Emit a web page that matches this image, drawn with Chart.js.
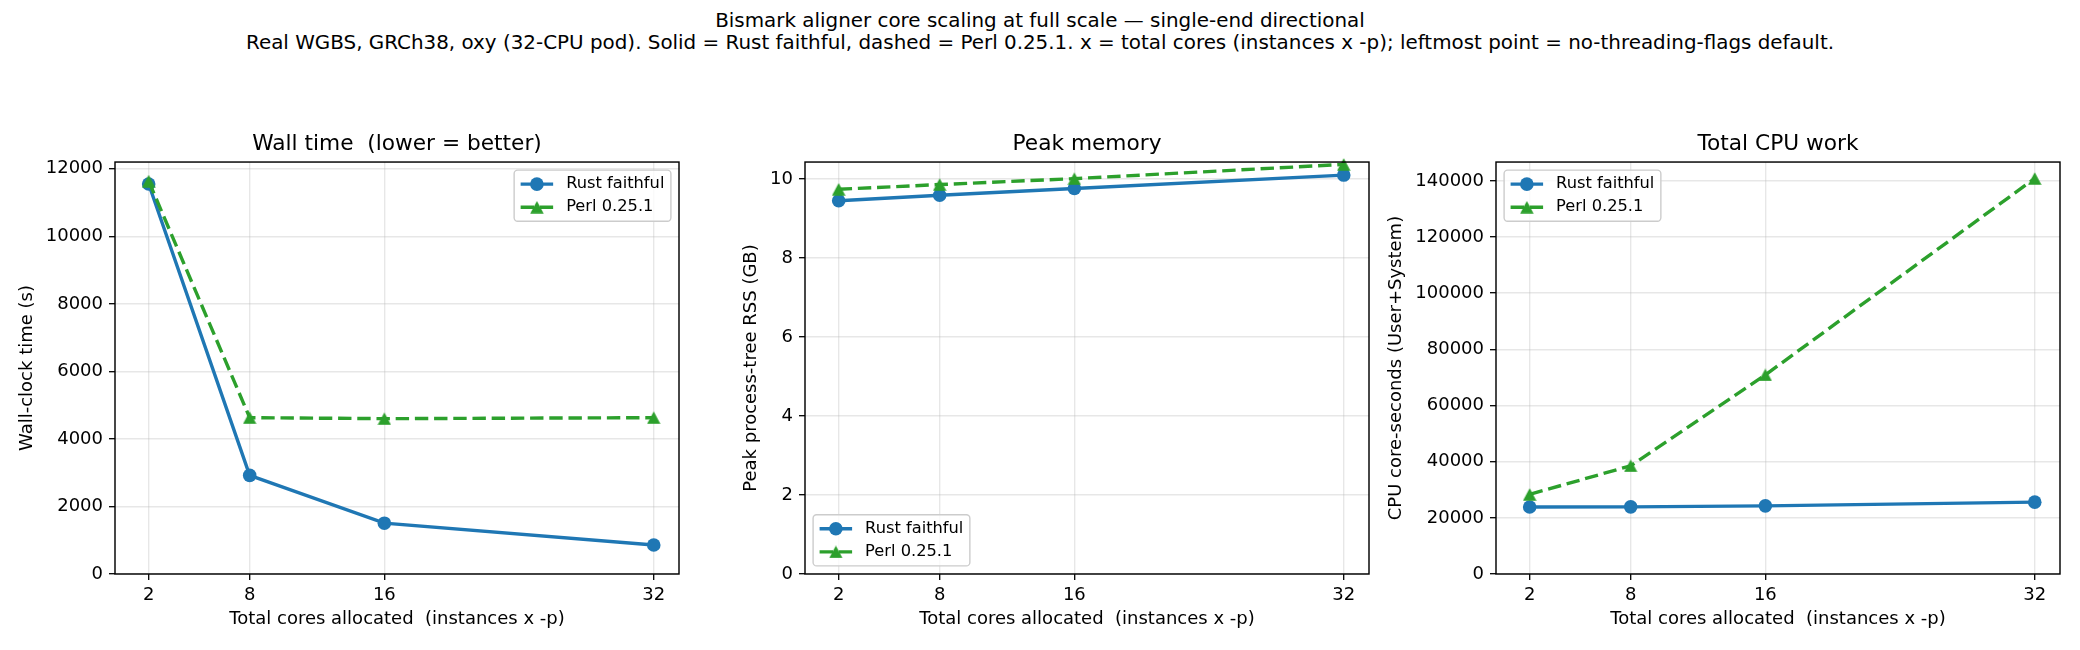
<!DOCTYPE html>
<html>
<head>
<meta charset="utf-8">
<script src="https://cdn.jsdelivr.net/npm/chart.js@4/dist/chart.umd.min.js"></script>
<style>
  html, body { margin: 0; padding: 0; background: #fff; }
  body { width: 2080px; height: 650px; position: relative; overflow: hidden; font-family: 'DejaVu Sans', sans-serif; }
  .suptitle { position: absolute; left: 0; width: 2080px; text-align: center; font-size: 19.9px; line-height: 22px; color: #000; white-space: nowrap; }
  .panel { position: absolute; top: 120px; }
</style>
</head>
<body>
<div class="suptitle" style="top: 10px;">Bismark aligner core scaling at full scale — single-end directional</div>
<div class="suptitle" style="top: 32px;">Real WGBS, GRCh38, oxy (32-CPU pod). Solid = Rust faithful, dashed = Perl 0.25.1. x = total cores (instances x -p); leftmost point = no-threading-flags default.</div>
<div class="panel" id="p0"><canvas id="c0"></canvas></div>
<div class="panel" id="p1"><canvas id="c1"></canvas></div>
<div class="panel" id="p2"><canvas id="c2"></canvas></div>
<script>
// x positions (total cores) and tick labels
const cores = [2, 8, 16, 32];
const coreTicks = [2, 8, 16, 32];

// wall-clock time (s)
const wallRust = [11550, 2920, 1505, 860];
const wallPerl = [11635, 4630, 4600, 4630];
const wallTicks = [0, 2000, 4000, 6000, 8000, 10000, 12000];

// peak RSS (GB)
const memRust = [9.45, 9.59, 9.76, 10.10];
const memPerl = [9.74, 9.86, 10.01, 10.37];
const memTicks = [0, 2, 4, 6, 8, 10];

// CPU core-seconds
const cpuRust = [23850, 23920, 24270, 25590];
const cpuPerl = [28350, 38540, 70900, 140860];
const cpuTicks = [0, 20000, 40000, 60000, 80000, 100000, 120000, 140000];

const seriesNames = ['Rust faithful', 'Perl 0.25.1'];
const BLUE = '#1f77b4';
const GREEN = '#2ca02c';
const FONT = "'DejaVu Sans', sans-serif";

Chart.defaults.font.family = FONT;
Chart.defaults.color = '#000';

// matplotlib-style '^' marker: centred on the point
function makeTriangle(color) {
  const c = document.createElement('canvas');
  c.width = 14; c.height = 13;
  const g = c.getContext('2d');
  g.fillStyle = color;
  g.beginPath();
  g.moveTo(7, 0.3); g.lineTo(13.7, 12.7); g.lineTo(0.3, 12.7);
  g.closePath(); g.fill();
  return c;
}
const triangle = makeTriangle(GREEN);

const frameBox = {
  id: 'frameBox',
  afterDatasetsDraw(chart) {
    const { ctx, chartArea: a } = chart;
    ctx.save();
    ctx.strokeStyle = '#000';
    ctx.lineWidth = 1.44;
    ctx.strokeRect(a.left, a.top, a.right - a.left, a.bottom - a.top);
    ctx.restore();
  }
};

const insideLegend = {
  id: 'insideLegend',
  afterDraw(chart, args, opts) {
    const { ctx, chartArea: a } = chart;
    const fs = 16.25, pad = 6.5, handle = 32.5, gap = 13, rowH = 15, spacing = 8.1, axPad = 8.1;
    const items = chart.data.datasets;
    ctx.save();
    ctx.font = `${fs}px ${FONT}`;
    const textW = Math.max(...items.map((d) => ctx.measureText(d.label).width));
    const w = pad * 2 + handle + gap + textW;
    const h = pad * 2 + rowH * items.length + spacing * (items.length - 1);
    const x = opts.corner.includes('e') ? a.right - axPad - w : a.left + axPad;
    const y = opts.corner.startsWith('n') ? a.top + axPad : a.bottom - axPad - h;

    ctx.beginPath();
    ctx.roundRect(x, y, w, h, 3.5);
    ctx.fillStyle = 'rgba(255,255,255,0.8)';
    ctx.fill();
    ctx.strokeStyle = '#cccccc';
    ctx.lineWidth = 1.4;
    ctx.stroke();

    items.forEach((d, i) => {
      const cy = y + pad + rowH / 2 + i * (rowH + spacing);
      const x0 = x + pad, x1 = x + pad + handle, cx = (x0 + x1) / 2;
      ctx.beginPath();
      ctx.setLineDash(d.borderDash || []);
      ctx.strokeStyle = d.borderColor;
      ctx.lineWidth = d.borderWidth;
      ctx.moveTo(x0, cy); ctx.lineTo(x1, cy);
      ctx.stroke();
      ctx.setLineDash([]);
      if (d.pointStyle === 'circle') {
        ctx.beginPath();
        ctx.fillStyle = d.pointBackgroundColor;
        ctx.arc(cx, cy, d.pointRadius, 0, Math.PI * 2);
        ctx.fill();
      } else {
        ctx.drawImage(d.pointStyle, cx - d.pointStyle.width / 2, cy - d.pointStyle.height / 2);
      }
      ctx.fillStyle = '#000';
      ctx.textBaseline = 'middle';
      ctx.textAlign = 'left';
      ctx.fillText(d.label, x1 + gap, cy);
    });
    ctx.restore();
  }
};

const plotLefts = [115, 805, 1496];
const PLOT_W = 565;
const AXIS_W = 115;
const RIGHT_PAD = 6;

const panels = [
  { title: 'Wall time  (lower = better)', yLabel: 'Wall-clock time (s)', rust: wallRust, perl: wallPerl,
    ticks: wallTicks, yMax: 12200, corner: 'ne', yTitlePad: 17 },
  { title: 'Peak memory', yLabel: 'Peak process-tree RSS (GB)', rust: memRust, perl: memPerl,
    ticks: memTicks, yMax: 10.43, corner: 'sw', yTitlePad: 51 },
  { title: 'Total CPU work', yLabel: 'CPU core-seconds (User+System)', rust: cpuRust, perl: cpuPerl,
    ticks: cpuTicks, yMax: 146700, corner: 'nw', yTitlePad: 5 }
];

const gridColor = 'rgba(176,176,176,0.3)';

panels.forEach((p, i) => {
  const holder = document.getElementById('p' + i);
  holder.style.left = (plotLefts[i] - AXIS_W) + 'px';
  const canvas = document.getElementById('c' + i);
  canvas.width = AXIS_W + PLOT_W + RIGHT_PAD;
  canvas.height = 530;

  new Chart(canvas, {
    type: 'line',
    data: {
      datasets: [
        {
          label: seriesNames[0],
          data: cores.map((c, k) => ({ x: c, y: p.rust[k] })),
          borderColor: BLUE,
          backgroundColor: BLUE,
          pointBackgroundColor: BLUE,
          borderWidth: 3.4,
          pointStyle: 'circle',
          pointRadius: 6.8,
          pointBorderWidth: 0,
          tension: 0,
          clip: false,
          order: 1
        },
        {
          label: seriesNames[1],
          data: cores.map((c, k) => ({ x: c, y: p.perl[k] })),
          borderColor: GREEN,
          backgroundColor: GREEN,
          pointBackgroundColor: GREEN,
          borderWidth: 3.4,
          borderDash: [13.4, 5.8],
          pointStyle: triangle,
          pointRadius: 7,
          pointBorderWidth: 0,
          tension: 0,
          clip: false,
          order: 0
        }
      ]
    },
    options: {
      responsive: false,
      animation: false,
      events: [],
      layout: { padding: { left: 0, right: RIGHT_PAD, top: 0, bottom: 0 } },
      plugins: {
        legend: { display: false },
        tooltip: { enabled: false },
        title: {
          display: true,
          text: p.title,
          fullSize: false,
          color: '#000',
          font: { size: 21.7, weight: 'normal' },
          padding: { top: 11, bottom: 5 }
        },
        insideLegend: { corner: p.corner }
      },
      scales: {
        x: {
          type: 'linear',
          min: 0,
          max: 33.5,
          afterBuildTicks: (s) => { s.ticks = coreTicks.map((v) => ({ value: v })); },
          afterFit: (s) => { s.height = 76; },
          ticks: { font: { size: 18 }, color: '#000', padding: 4.5, maxRotation: 0, autoSkip: false, callback: (v) => String(v) },
          grid: { color: gridColor, lineWidth: 1.4, tickColor: '#000', tickLength: 6, tickWidth: 1.3 },
          border: { display: false },
          title: { display: true, text: 'Total cores allocated  (instances x -p)', font: { size: 18 }, color: '#000', padding: { top: 0, bottom: 19.5 } }
        },
        y: {
          min: 0,
          max: p.yMax,
          afterBuildTicks: (s) => { s.ticks = p.ticks.map((v) => ({ value: v })); },
          afterFit: (s) => { s.width = AXIS_W; },
          ticks: { font: { size: 18 }, color: '#000', padding: 6, callback: (v) => String(v) },
          grid: { color: gridColor, lineWidth: 1.4, tickColor: '#000', tickLength: 6, tickWidth: 1.3 },
          border: { display: false },
          title: { display: true, text: p.yLabel, font: { size: 18 }, color: '#000', padding: { top: p.yTitlePad, bottom: 0 } }
        }
      }
    },
    plugins: [frameBox, insideLegend]
  });
});
</script>
</body>
</html>
